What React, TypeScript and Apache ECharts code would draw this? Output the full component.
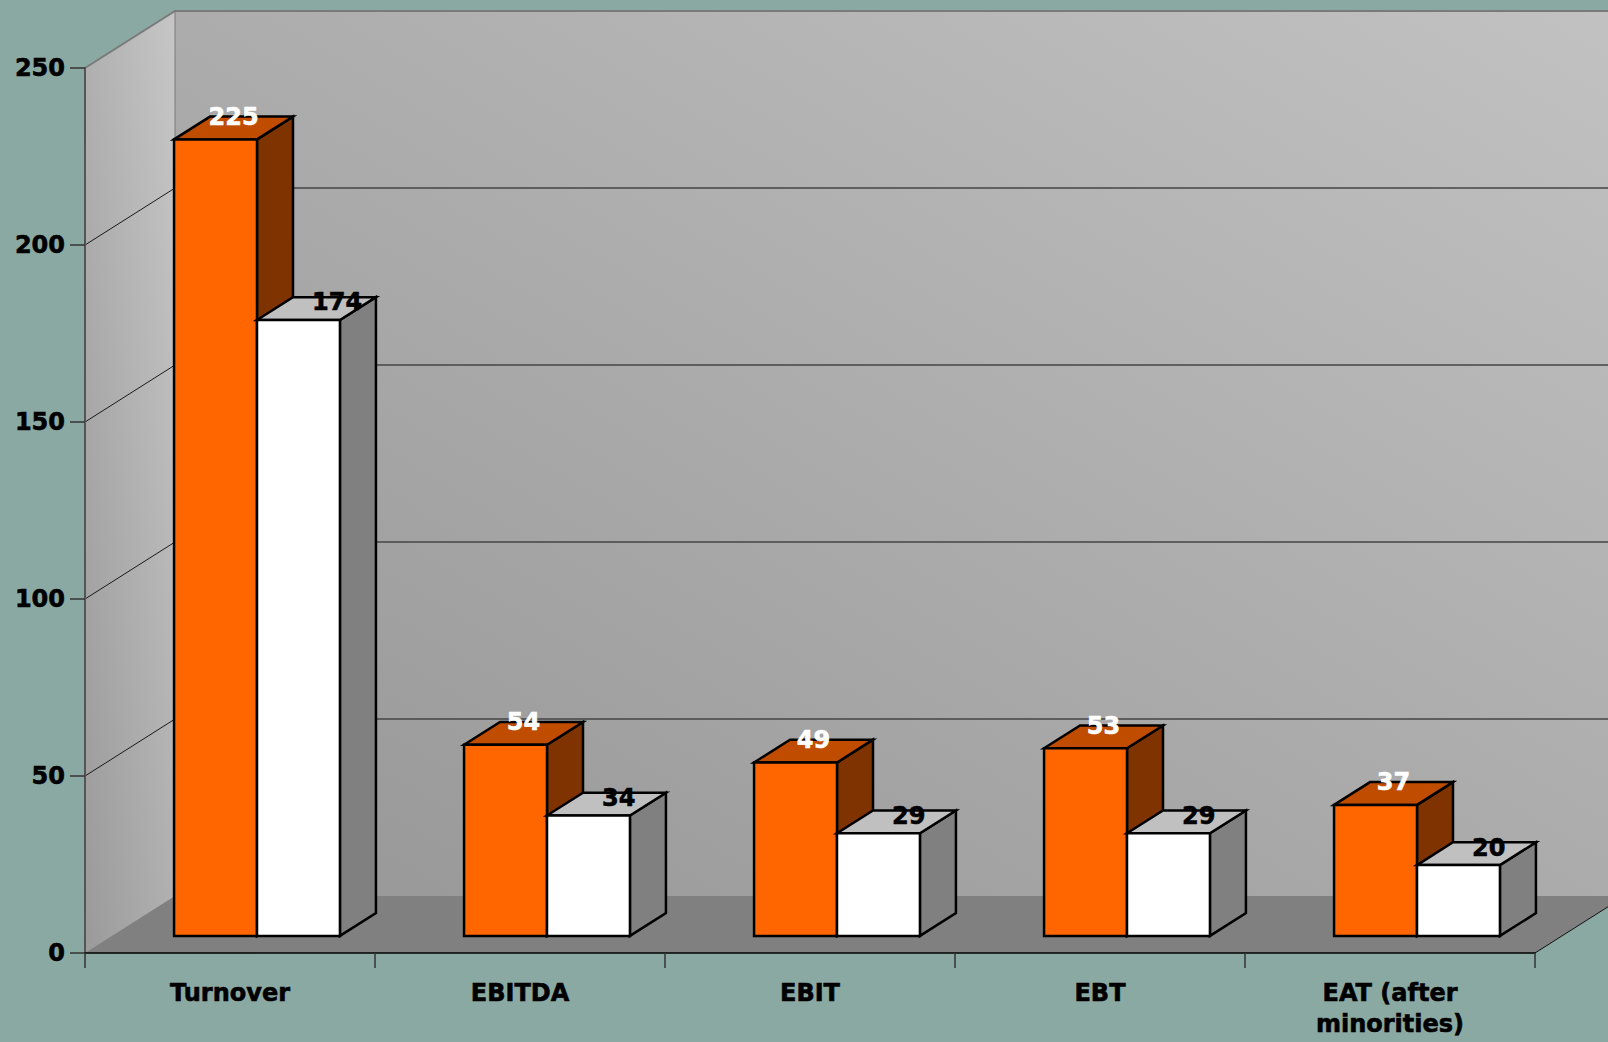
import React, { useEffect, useRef } from "react";
import * as echarts from "echarts";

const categories = ["Turnover", "EBITDA", "EBIT", "EBT", "EAT (after\nminorities)"];
const orangeValues = [225, 54, 49, 53, 37];
const whiteValues = [174, 34, 29, 29, 20];
const yTicks = [0, 50, 100, 150, 200, 250];

const W = 1608;
const H = 1042;
const DX = 90;
const DY = -57;
const FRONT = 0.3;
const DEPTH = 0.4;
const FONT = '"DejaVu Sans", Verdana, sans-serif';

function wallsRender(params: any, api: any) {
  const p0 = api.coord([0, 0]);
  const bw = api.size([1, 0])[0];
  const xL = p0[0] - bw / 2;
  const xR = xL + bw * categories.length;
  const y0 = p0[1];
  const yMax = yTicks[yTicks.length - 1];
  const yTop = api.coord([0, yMax])[1];
  const farR = W + 40;
  const children: any[] = [];
  children.push({
    type: "rect",
    shape: { x: xL + DX, y: yTop + DY, width: farR - (xL + DX), height: y0 - yTop },
    style: {
      fill: new echarts.graphic.LinearGradient(0, 1, 1, 0, [
        { offset: 0, color: "#969696" },
        { offset: 1, color: "#c2c2c2" },
      ]),
    },
  });
  children.push({
    type: "polygon",
    shape: { points: [[xL, yTop], [xL + DX, yTop + DY], [xL + DX, y0 + DY], [xL, y0]] },
    style: {
      fill: new echarts.graphic.LinearGradient(0, 1, 1, 0, [
        { offset: 0, color: "#9a9a9a" },
        { offset: 1, color: "#c6c6c6" },
      ]),
    },
  });
  children.push({
    type: "polygon",
    shape: { points: [[xL, y0], [xL + DX, y0 + DY], [xR + DX, y0 + DY], [xR, y0]] },
    style: { fill: "#808080" },
  });
  yTicks.forEach((v) => {
    if (v === 0 || v === yMax) return;
    const y = api.coord([0, v])[1];
    children.push({
      type: "line",
      shape: { x1: xL + DX, y1: y + DY, x2: farR, y2: y + DY },
      style: { stroke: "#454545", lineWidth: 1.5 },
    });
    children.push({
      type: "line",
      shape: { x1: xL, y1: y, x2: xL + DX, y2: y + DY },
      style: { stroke: "#1a1a1a", lineWidth: 1 },
    });
  });
  children.push({
    type: "line",
    shape: { x1: xL + DX, y1: yTop + DY, x2: xL + DX, y2: y0 + DY },
    style: { stroke: "#7a7a7a", lineWidth: 1 },
  });
  children.push({
    type: "polyline",
    shape: { points: [[xL, yTop], [xL + DX, yTop + DY], [farR, yTop + DY]] },
    style: { stroke: "#7a7a7a", lineWidth: 2, fill: null },
  });
  children.push({
    type: "line",
    shape: { x1: xR, y1: y0, x2: xR + DX, y2: y0 + DY },
    style: { stroke: "#111", lineWidth: 1 },
  });
  return { type: "group", children };
}

function makeBarRender(side: number, front: string, top: string, sideC: string, labelColor: string) {
  return (params: any, api: any) => {
    const idx = api.value(0);
    const val = api.value(1);
    const c = api.coord([idx, val]);
    const base = api.coord([idx, 0]);
    const bw = api.size([1, 0])[0];
    const w = bw * 0.286;
    const fx = DX * FRONT;
    const fy = DY * FRONT;
    const ddx = DX * DEPTH;
    const ddy = DY * DEPTH;
    const left = c[0] + fx + (side === 0 ? -w : 0);
    const right = left + w;
    const yT = c[1] + fy;
    const yB = base[1] + fy;
    const stroke = { stroke: "#000", lineWidth: 2.5, lineJoin: "miter" };
    const children: any[] = [
      {
        type: "polygon",
        shape: { points: [[right, yT], [right + ddx, yT + ddy], [right + ddx, yB + ddy], [right, yB]] },
        style: { fill: sideC, ...stroke },
      },
      {
        type: "polygon",
        shape: { points: [[left, yT], [left + ddx, yT + ddy], [right + ddx, yT + ddy], [right, yT]] },
        style: { fill: top, ...stroke },
      },
      {
        type: "rect",
        shape: { x: left, y: yT, width: w, height: yB - yT },
        style: { fill: front, ...stroke },
      },
      {
        type: "text",
        x: side === 0 ? left + w / 2 + ddx / 2 : left + 55,
        y: side === 0 ? yT - 22.5 : yT - 17.5,
        style: {
          text: String(val),
          fill: labelColor,
          stroke: labelColor,
          lineWidth: 0.6,
          fontFamily: FONT,
          fontWeight: "bold",
          fontSize: 24,
          align: side === 0 ? "center" : "left",
          verticalAlign: "middle",
        },
      },
    ];
    return { type: "group", children };
  };
}

export default function App() {
  const ref = useRef<HTMLDivElement>(null);
  useEffect(() => {
    document.body.style.margin = "0";
    if (!ref.current) return;
    const chart = echarts.init(ref.current, null, { renderer: "svg" });
    const labelStyle = {
      color: "#000",
      fontFamily: FONT,
      fontWeight: "bold",
      fontSize: 24,
      textBorderColor: "#000",
      textBorderWidth: 0.6,
    };
    chart.setOption({
      animation: false,
      backgroundColor: "#8ba9a3",
      grid: { left: 85, right: W - 1535, top: 68, bottom: H - 953, outerBoundsMode: "none" },
      xAxis: {
        type: "category",
        data: categories,
        axisLine: { show: true, lineStyle: { color: "#000", width: 1.5 } },
        axisTick: { show: true, length: 15, lineStyle: { color: "#333", width: 1.5 } },
        axisLabel: {
          ...labelStyle,
          lineHeight: 31,
          margin: 24,
          interval: 0,
        },
        splitLine: { show: false },
      },
      yAxis: {
        type: "value",
        min: 0,
        max: 250,
        interval: 50,
        axisLine: { show: true, lineStyle: { color: "#555", width: 2 } },
        axisTick: { show: true, length: 15, lineStyle: { color: "#333", width: 1.5 } },
        axisLabel: {
          ...labelStyle,
          margin: 20,
        },
        splitLine: { show: false },
      },
      series: [
        {
          type: "custom",
          name: "walls",
          z: -1,
          silent: true,
          data: [[0, 0]],
          renderItem: wallsRender,
        },
        {
          type: "custom",
          name: "Series 1",
          z: 3,
          data: orangeValues.map((v, i) => [i, v]),
          renderItem: makeBarRender(0, "#ff6600", "#c04c00", "#7f3300", "#ffffff"),
        },
        {
          type: "custom",
          name: "Series 2",
          z: 4,
          data: whiteValues.map((v, i) => [i, v]),
          renderItem: makeBarRender(1, "#ffffff", "#c0c0c0", "#808080", "#000000"),
        },
      ],
    });
    return () => chart.dispose();
  }, []);
  return <div ref={ref} style={{ width: W, height: H }} />;
}
